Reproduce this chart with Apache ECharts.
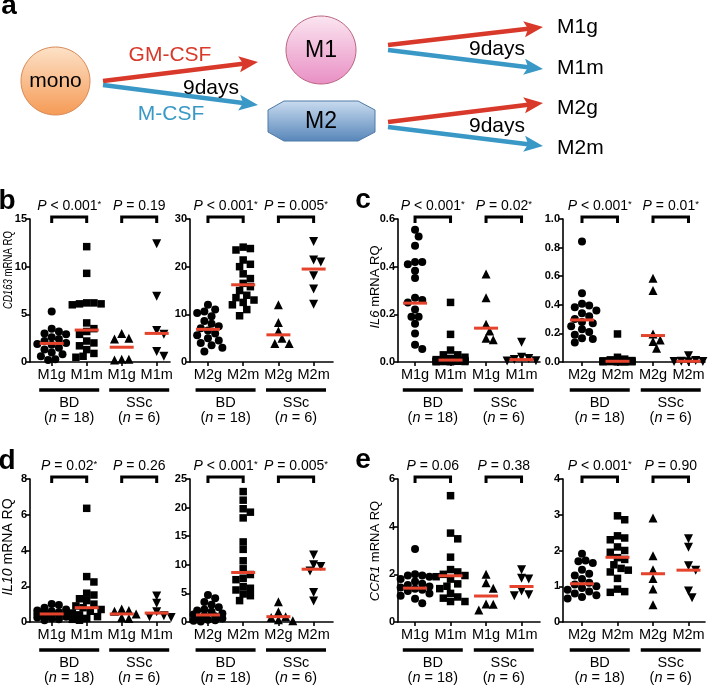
<!DOCTYPE html>
<html>
<head>
<meta charset="utf-8">
<script src="https://cdn.jsdelivr.net/npm/echarts@6/dist/echarts.min.js"></script>
<style>
html, body { margin: 0; padding: 0; background: #fff; }
#chart { width: 708px; height: 686px; }
</style>
</head>
<body>
<div id="chart"></div>
<script>
// Tick labels / group names
const m1Labels = ['M1g', 'M1m', 'M1g', 'M1m'];
const m2Labels = ['M2g', 'M2m', 'M2g', 'M2m'];
const groupNames = ['BD', 'SSc'];
const groupN = ['18', '6'];

// CD163 (panel b)
const cd163M1BdG = [5.3, 3.5, 3.2, 3.0, 2.9, 2.6, 2.4, 2.2, 2.0, 1.9, 1.8, 1.5, 1.3, 1.0, 0.8, 0.6, 0.3, 0.2];
const cd163M1BdM = [12.1, 9.3, 6.2, 6.2, 6.1, 6.1, 6.0, 4.1, 3.5, 3.2, 2.9, 2.2, 2.0, 1.7, 1.3, 0.9, 0.6, 0.5];
const cd163M1SscG = [3.0, 2.5, 2.4, 0.3, 0.3, 0.2];
const cd163M1SscM = [12.4, 6.9, 3.3, 2.9, 1.1, 0.6];
const cd163M1Med = [1.95, 3.35, 1.55, 3.0];
const cd163M2BdG = [12.0, 11.0, 10.6, 10.3, 9.6, 8.6, 8.0, 7.5, 7.1, 6.6, 6.0, 5.6, 5.0, 4.5, 4.0, 3.5, 3.0, 2.2];
const cd163M2BdM = [24.1, 23.8, 23.5, 21.4, 20.5, 20.0, 18.5, 17.5, 16.5, 15.8, 15.0, 14.0, 13.5, 13.0, 12.5, 12.0, 11.0, 9.7];
const cd163M2SscG = [12.0, 8.3, 6.5, 5.0, 3.9, 3.9];
const cd163M2SscM = [25.3, 21.4, 21.0, 18.1, 15.3, 12.1];
const cd163M2Med = [6.85, 16.2, 5.7, 19.5];
const cd163P1 = ['< 0.001*', '= 0.19'];
const cd163P2 = ['< 0.001*', '= 0.005*'];

// IL6 (panel c)
const il6M1BdG = [0.555, 0.527, 0.488, 0.42, 0.42, 0.41, 0.383, 0.352, 0.27, 0.26, 0.25, 0.22, 0.19, 0.19, 0.16, 0.12, 0.072, 0.055];
const il6M1BdM = [0.25, 0.116, 0.05, 0.03, 0.03, 0.02, 0.015, 0.01, 0.01, 0.008, 0.006, 0.005, 0.004, 0.003, 0.002, 0.002, 0.001, 0.001];
const il6M1SscG = [0.369, 0.27, 0.158, 0.13, 0.1, 0.093];
const il6M1SscM = [0.083, 0.02, 0.015, 0.01, 0.005, 0.004];
const il6M1Med = [0.247, 0.008, 0.142, 0.01];
const il6M2BdG = [0.843, 0.481, 0.407, 0.395, 0.383, 0.36, 0.341, 0.32, 0.3, 0.28, 0.271, 0.25, 0.229, 0.21, 0.19, 0.166, 0.16, 0.136];
const il6M2BdM = [0.196, 0.033, 0.02, 0.015, 0.01, 0.008, 0.007, 0.006, 0.005, 0.005, 0.004, 0.004, 0.003, 0.003, 0.002, 0.002, 0.001, 0.001];
const il6M2SscG = [0.586, 0.5, 0.196, 0.154, 0.143, 0.096];
const il6M2SscM = [0.044, 0.01, 0.006, 0.004, 0.003, 0.002];
const il6M2Med = [0.294, 0.005, 0.185, 0.005];
const il6P1 = ['< 0.001*', '= 0.02*'];
const il6P2 = ['< 0.001*', '= 0.01*'];

// IL10 (panel d)
const il10M1BdG = [1.01, 0.95, 0.8, 0.7, 0.65, 0.6, 0.55, 0.5, 0.45, 0.45, 0.4, 0.4, 0.35, 0.3, 0.25, 0.2, 0.15, 0.1];
const il10M1BdM = [6.36, 2.54, 2.24, 1.61, 1.51, 1.3, 1.2, 1.0, 0.9, 0.8, 0.7, 0.6, 0.5, 0.4, 0.3, 0.2, 0.15, 0.1];
const il10M1SscG = [0.73, 0.65, 0.6, 0.45, 0.25, 0.2];
const il10M1SscM = [1.46, 1.05, 0.58, 0.35, 0.3, 0.25];
const il10M1Med = [0.45, 0.8, 0.45, 0.5];
const il10M2BdG = [4.73, 4.15, 3.5, 3.0, 2.6, 2.2, 2.0, 1.8, 1.5, 1.3, 1.1, 1.0, 0.8, 0.6, 0.4, 0.3, 0.2, 0.1];
const il10M2BdM = [22.8, 21.3, 19.8, 19.2, 18.2, 14.0, 12.7, 10.7, 9.3, 8.3, 7.65, 7.4, 6.2, 5.9, 5.6, 4.9, 4.6, 3.74];
const il10M2SscG = [3.56, 1.81, 0.9, 0.8, 0.4, 0.2];
const il10M2SscM = [11.7, 10.0, 9.7, 8.9, 5.14, 3.68];
const il10M2Med = [1.23, 8.65, 0.93, 9.23];
const il10P1 = ['= 0.02*', '= 0.26'];
const il10P2 = ['< 0.001*', '= 0.005*'];

// CCR1 (panel e)
const ccr1M1BdG = [3.06, 2.0, 1.95, 1.95, 1.9, 1.8, 1.7, 1.6, 1.55, 1.49, 1.45, 1.4, 1.35, 1.3, 1.2, 1.1, 0.98, 0.79];
const ccr1M1BdM = [5.3, 3.73, 3.49, 2.72, 2.2, 2.1, 2.0, 1.95, 1.9, 1.8, 1.6, 1.5, 1.4, 1.2, 1.05, 1.0, 0.86, 0.86];
const ccr1M1SscG = [2.0, 1.65, 1.42, 0.76, 0.75, 0.5];
const ccr1M1SscM = [2.19, 1.84, 1.8, 1.3, 1.14, 1.1];
const ccr1M1Med = [1.42, 1.94, 1.09, 1.49];
const ccr1M2BdG = [1.91, 1.72, 1.7, 1.65, 1.46, 1.35, 1.3, 1.2, 1.1, 1.05, 1.0, 0.95, 0.9, 0.85, 0.8, 0.75, 0.7, 0.66];
const ccr1M2BdM = [2.97, 2.86, 2.41, 2.35, 2.3, 2.1, 2.0, 1.95, 1.8, 1.75, 1.6, 1.5, 1.45, 1.4, 1.22, 0.92, 0.85, 0.83];
const ccr1M2SscG = [2.91, 1.85, 1.46, 1.22, 0.92, 0.48];
const ccr1M2SscM = [2.33, 2.09, 1.57, 1.45, 0.87, 0.68];
const ccr1M2Med = [1.07, 1.81, 1.35, 1.45];
const ccr1P1 = ['= 0.06', '= 0.38'];
const ccr1P2 = ['< 0.001*', '= 0.90'];

const FONT = "'Liberation Sans', Arial, Helvetica, sans-serif";
const INK = '#000';
const RED = '#d8392a';
const BLUE = '#3a98c6';
const MED_RED = '#e5432c';

// Plot layout (pixels)
const PH = 143;
const plots = [
    { letter: 'b', lx: 7, ly: 201, left: 30, top: 219, width: 140, xr: [0.38, 4.38], yMax: 15, step: 5, dec: 0, labels: m1Labels,
      gene: 'CD163', nx: 8.5, ny: 270, nSize: 13, nScale: 0.74,
      groups: [cd163M1BdG, cd163M1BdM, cd163M1SscG, cd163M1SscM], med: cd163M1Med, p: cd163P1 },
    { left: 190, top: 219, width: 143, xr: [0.49, 4.55], yMax: 30, step: 10, dec: 0, labels: m2Labels,
      groups: [cd163M2BdG, cd163M2BdM, cd163M2SscG, cd163M2SscM], med: cd163M2Med, p: cd163P2 },
    { letter: 'c', lx: 363, ly: 200, left: 398, top: 219, width: 142, xr: [0.52, 4.52], yMax: 0.6, step: 0.2, dec: 1, labels: m1Labels,
      gene: 'IL6', nx: 375, ny: 287, nSize: 13, nScale: 1,
      groups: [il6M1BdG, il6M1BdM, il6M1SscG, il6M1SscM], med: il6M1Med, p: il6P1 },
    { left: 563, top: 219, width: 142, xr: [0.465, 4.465], yMax: 1.0, step: 0.2, dec: 1, labels: m2Labels,
      groups: [il6M2BdG, il6M2BdM, il6M2SscG, il6M2SscM], med: il6M2Med, p: il6P2 },
    { letter: 'd', lx: 7, ly: 461, left: 30, top: 479, width: 140, xr: [0.38, 4.38], yMax: 8, step: 2, dec: 0, labels: m1Labels,
      gene: 'IL10', nx: 8.5, ny: 547, nSize: 14, nScale: 1,
      groups: [il10M1BdG, il10M1BdM, il10M1SscG, il10M1SscM], med: il10M1Med, p: il10P1 },
    { left: 190, top: 479, width: 143, xr: [0.49, 4.55], yMax: 25, step: 5, dec: 0, labels: m2Labels,
      groups: [il10M2BdG, il10M2BdM, il10M2SscG, il10M2SscM], med: il10M2Med, p: il10P2 },
    { letter: 'e', lx: 363, ly: 460, left: 398, top: 479, width: 142, xr: [0.52, 4.52], yMax: 6, step: 2, dec: 0, labels: m1Labels,
      gene: 'CCR1', nx: 375, ny: 551, nSize: 13, nScale: 1,
      groups: [ccr1M1BdG, ccr1M1BdM, ccr1M1SscG, ccr1M1SscM], med: ccr1M1Med, p: ccr1P1 },
    { left: 563, top: 479, width: 142, xr: [0.465, 4.465], yMax: 4, step: 1, dec: 0, labels: m2Labels,
      groups: [ccr1M2BdG, ccr1M2BdM, ccr1M2SscG, ccr1M2SscM], med: ccr1M2Med, p: ccr1P2 }
];

const symbols = [
    { symbol: 'circle', size: 8, rotate: 0 },
    { symbol: 'rect', size: 7.5, rotate: 0 },
    { symbol: 'triangle', size: 9, rotate: 0 },
    { symbol: 'triangle', size: 9, rotate: 180 }
];

// simple beeswarm: horizontal offsets so markers don't pile up
function swarm(vals, yMax, unitPx) {
    const d = 7.2, step = 3.6;
    const order = vals.map((v, i) => i).sort((a, b) => vals[b] - vals[a]);
    const placed = [];
    const offs = new Array(vals.length).fill(0);
    order.forEach(i => {
        const y = vals[i] / yMax * PH;
        let best = 0, bestOv = Infinity;
        for (let k = 0; k < 9; k++) {
            const cand = (k % 2 === 1 ? 1 : -1) * Math.ceil(k / 2) * step;
            let ov = 0;
            placed.forEach(p => {
                const dist = Math.hypot(p[0] - cand, p[1] - y);
                if (dist < d) ov += d - dist;
            });
            if (ov === 0) { best = cand; bestOv = 0; break; }
            if (ov < bestOv - 0.01) { bestOv = ov; best = cand; }
        }
        placed.push([best, y]);
        offs[i] = best / unitPx;
    });
    return offs;
}

const chart = echarts.init(document.getElementById('chart'), null, { renderer: 'canvas' });

const grids = [], xAxes = [], yAxes = [], series = [];
plots.forEach((pl, gi) => {
    grids.push({ left: pl.left, top: pl.top, width: pl.width, height: PH, containLabel: false, outerBoundsMode: 'none' });
    xAxes.push({
        type: 'value', gridIndex: gi, min: pl.xr[0], max: pl.xr[1],
        axisLine: { show: true, onZero: false, lineStyle: { color: INK, width: 1.6 } },
        axisTick: { show: true, customValues: [1, 2, 3, 4], length: 4, lineStyle: { color: INK, width: 1.6 } },
        axisLabel: { customValues: [1, 2, 3, 4], formatter: v => pl.labels[Math.round(v) - 1], fontSize: 14.5, color: INK, margin: 5, fontFamily: FONT },
        splitLine: { show: false }
    });
    yAxes.push({
        type: 'value', gridIndex: gi, min: 0, max: pl.yMax, interval: pl.step,
        axisLine: { show: true, lineStyle: { color: INK, width: 1.6 } },
        axisTick: { show: true, length: 4, lineStyle: { color: INK, width: 1.6 } },
        axisLabel: { fontSize: 11, fontWeight: 'bold', color: INK, margin: 3, fontFamily: FONT, formatter: v => v.toFixed(pl.dec) },
        splitLine: { show: false }
    });

    const unitPx = pl.width / (pl.xr[1] - pl.xr[0]);
    pl.groups.forEach((vals, j) => {
        const offs = swarm(vals, pl.yMax, unitPx);
        const s = symbols[j];
        series.push({
            type: 'scatter', xAxisIndex: gi, yAxisIndex: gi,
            symbol: s.symbol, symbolSize: s.size, symbolRotate: s.rotate,
            itemStyle: { color: INK, opacity: 1 },
            clip: false, silent: true,
            data: vals.map((v, i) => [j + 1 + offs[i], v])
        });
    });
    series.push({
        type: 'scatter', xAxisIndex: gi, yAxisIndex: gi,
        symbol: 'rect', symbolSize: [24, 3],
        itemStyle: { color: MED_RED, opacity: 1 },
        z: 5, clip: false, silent: true,
        data: pl.med.map((m, j) => [j + 1, m])
    });
});

chart.setOption({
    animation: false,
    backgroundColor: '#fff',
    textStyle: { fontFamily: FONT },
    grid: grids,
    xAxis: xAxes,
    yAxis: yAxes,
    series: series
});

// ---- overlay graphics: panel a diagram, axis titles, brackets, p-values, group bars ----
function arrow(x1, y1, x2, y2, color) {
    const L = 19, W = 8;
    const len = Math.hypot(x2 - x1, y2 - y1);
    const ux = (x2 - x1) / len, uy = (y2 - y1) / len;
    const bx = x2 - ux * L, by = y2 - uy * L;
    return [
        { type: 'line', shape: { x1: x1, y1: y1, x2: bx + ux * 4, y2: by + uy * 4 }, style: { stroke: color, lineWidth: 4.5 } },
        { type: 'polygon', shape: { points: [[x2, y2], [bx - uy * W, by + ux * W], [bx + ux * 4, by + uy * 4], [bx + uy * W, by - ux * W]] }, style: { fill: color } }
    ];
}

function txt(x, y, text, size, color, extra) {
    return {
        type: 'text', x: x, y: y, z: 10,
        style: Object.assign({ text: text, fontSize: size, fontFamily: FONT, fill: color || INK, align: 'center', verticalAlign: 'middle' }, extra || {})
    };
}

const grad = (c1, c2) => new echarts.graphic.LinearGradient(0, 0, 0, 1, [{ offset: 0, color: c1 }, { offset: 1, color: c2 }]);

const g = [];
// panel a
g.push(txt(9, 6, 'a', 28, INK, { fontWeight: 'bold' }));
g.push({ type: 'ellipse', shape: { cx: 55.5, cy: 81, rx: 34.5, ry: 34 }, style: { fill: grad('#fde2c8', '#f59a55'), stroke: '#d98a55', lineWidth: 1 } });
g.push(txt(55.5, 81, 'mono', 21));
g.push(...arrow(103, 81, 258, 62, RED));
g.push(...arrow(103, 85, 258, 105, BLUE));
g.push(txt(170, 55, 'GM-CSF', 21, RED));
g.push(txt(211, 88, '9days', 21));
g.push(txt(171, 114, 'M-CSF', 21, BLUE));
g.push({ type: 'ellipse', shape: { cx: 321, cy: 50, rx: 35, ry: 34 }, style: { fill: grad('#fbe6f1', '#e98fc4'), stroke: '#b9657f', lineWidth: 1 } });
g.push(txt(321, 51, 'M1', 23));
g.push({ type: 'polygon', shape: { points: [[268, 110], [284, 101], [358, 101], [375, 110], [375, 132], [358, 141], [284, 141], [268, 132]] },
         style: { fill: grad('#cadcf0', '#5786b9'), stroke: '#4f7aa8', lineWidth: 1, lineJoin: 'round' } });
g.push(txt(321, 122, 'M2', 23));
g.push(...arrow(388, 45, 543, 27, RED));
g.push(...arrow(388, 50, 543, 69, BLUE));
g.push(...arrow(388, 122, 543, 103, RED));
g.push(...arrow(388, 127, 543, 146, BLUE));
g.push(txt(497, 49, '9days', 21));
g.push(txt(497, 126, '9days', 21));
g.push(txt(557, 27, 'M1g', 21, INK, { align: 'left' }));
g.push(txt(557, 68, 'M1m', 21, INK, { align: 'left' }));
g.push(txt(557, 108, 'M2g', 21, INK, { align: 'left' }));
g.push(txt(557, 148, 'M2m', 21, INK, { align: 'left' }));

const richP = {
    i: { fontSize: 14, fontStyle: 'italic', fontFamily: FONT, fill: INK, color: INK },
    t: { fontSize: 14, fontFamily: FONT, fill: INK, color: INK },
    s: { fontSize: 9.5, fontFamily: FONT, fill: INK, color: INK, verticalAlign: 'top' }
};
const richN = {
    i: { fontSize: 14.5, fontStyle: 'italic', fontFamily: FONT, fill: INK, color: INK }
};

plots.forEach((pl, gi) => {
    if (pl.letter) g.push(txt(pl.lx, pl.ly, pl.letter, 28, INK, { fontWeight: 'bold' }));
    if (pl.gene) {
        const t = txt(0, 0, '{i|' + pl.gene + '} mRNA RQ', pl.nSize, INK, {
            rich: { i: { fontSize: pl.nSize, fontStyle: 'italic', fontFamily: FONT, fill: INK } }
        });
        t.x = pl.nx; t.y = pl.ny; t.rotation = Math.PI / 2; t.scaleX = pl.nScale;
        g.push(t);
    }
    const px = (x, y) => chart.convertToPixel({ gridIndex: gi }, [x, y]);
    const top = px(1, pl.yMax)[1];
    const bottom = px(1, 0)[1];
    [[1, 2], [3, 4]].forEach((pair, k) => {
        const a = px(pair[0], 0)[0], b = px(pair[1], 0)[0];
        const by = top - 2;
        g.push({ type: 'polyline', z: 10, shape: { points: [[a, by + 6], [a, by], [b, by], [b, by + 6]] }, style: { stroke: INK, lineWidth: 3, fill: null } });
        const ptxt = '{i|P}{t| ' + pl.p[k].replace('*', '}{s|*}') + (pl.p[k].indexOf('*') < 0 ? '}' : '');
        g.push(txt((a + b) / 2, by - 11, ptxt, 14, INK, { rich: richP }));
        const c = (a + b) / 2;
        g.push({ type: 'line', z: 10, shape: { x1: c - 30, y1: bottom + 28, x2: c + 30, y2: bottom + 28 }, style: { stroke: INK, lineWidth: 3.5 } });
        g.push(txt(c, bottom + 41, groupNames[k], 14.5));
        g.push(txt(c, bottom + 56, '({i|n} = ' + groupN[k] + ')', 14.5, INK, { rich: richN }));
    });
});

chart.setOption({ graphic: g });
</script>
</body>
</html>
